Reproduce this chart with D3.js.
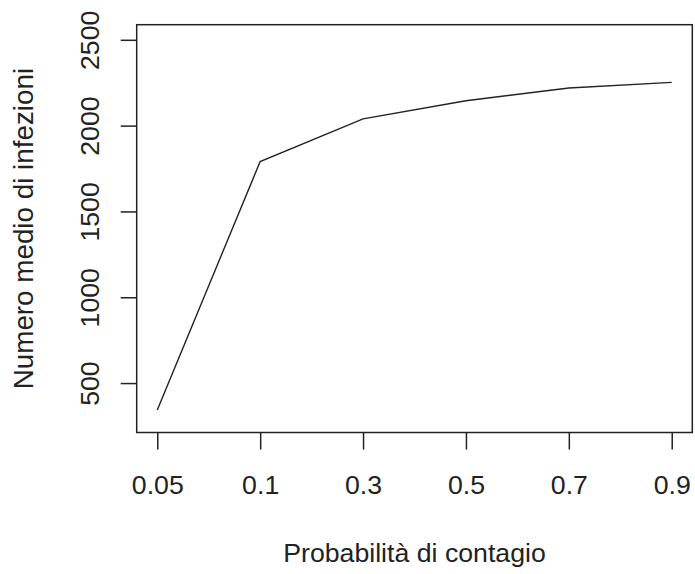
<!DOCTYPE html>
<html>
<head>
<meta charset="utf-8">
<script src="https://cdn.jsdelivr.net/npm/d3@7"></script>
<style>
  html, body { margin: 0; padding: 0; background: #fff; }
  svg { display: block; font-family: "Liberation Sans", Arial, Helvetica, sans-serif; }
</style>
</head>
<body>
<svg id="chart" width="695" height="574"></svg>
<script>
// Contagion probability levels (treated as ordered categories)
const probabilities = ["0.05", "0.1", "0.3", "0.5", "0.7", "0.9"];
// Mean number of infections for each probability
const meanInfections = [343, 1791, 2039, 2145, 2219, 2252];
// Y-axis ticks
const yTicks = [500, 1000, 1500, 2000, 2500];

const box = { left: 136.7, right: 692.3, top: 24.7, bottom: 432.5 };
const tickFont = 26.7;
const labFont = 27.8;

const svg = d3.select("#chart");

// Index scale 1..6 with a 4% pad on either side, like base graphics
const x = d3.scaleLinear().domain([0.8, 6.2]).range([box.left, box.right]);
const y = d3.scaleLinear().domain([212, 2588]).range([box.bottom, box.top]);

// Plot frame
svg.append("rect")
  .attr("x", box.left).attr("y", box.top)
  .attr("width", box.right - box.left).attr("height", box.bottom - box.top)
  .attr("fill", "none").attr("stroke", "#222").attr("stroke-width", 1.5);

// X axis
const xAxis = d3.axisBottom(x)
  .tickValues(d3.range(1, probabilities.length + 1))
  .tickFormat(i => probabilities[i - 1])
  .tickSize(17).tickPadding(24);
const gx = svg.append("g").attr("transform", `translate(0,${box.bottom})`).call(xAxis);
gx.select(".domain").remove();
gx.selectAll(".tick line").attr("stroke", "#222").attr("stroke-width", 1.5);
gx.selectAll(".tick text").attr("font-size", tickFont).attr("fill", "#222")
  .attr("font-family", "Liberation Sans, Arial, sans-serif")
  .attr("dy", null).attr("y", 61.5);

// Y axis (labels rotated parallel to the axis)
const yAxis = d3.axisLeft(y).tickValues(yTicks).tickSize(16).tickFormat(d3.format("d"));
const gy = svg.append("g").attr("transform", `translate(${box.left},0)`).call(yAxis);
gy.select(".domain").remove();
gy.selectAll(".tick line").attr("stroke", "#222").attr("stroke-width", 1.5);
gy.selectAll(".tick text")
  .attr("font-size", tickFont).attr("fill", "#222")
  .attr("font-family", "Liberation Sans, Arial, sans-serif")
  .attr("x", null).attr("dy", null)
  .attr("text-anchor", "middle")
  .attr("transform", `translate(${99 - box.left},0) rotate(-90)`);

// Data line
const line = d3.line()
  .x((d, i) => x(i + 1))
  .y(d => y(d));
svg.append("path")
  .datum(meanInfections)
  .attr("d", line)
  .attr("fill", "none").attr("stroke", "#222").attr("stroke-width", 1.4);

// Axis titles
svg.append("text")
  .attr("x", (box.left + box.right) / 2).attr("y", 561.5)
  .attr("text-anchor", "middle").attr("font-size", tickFont).attr("fill", "#222")
  .text("Probabilità di contagio");

svg.append("text")
  .attr("transform", `translate(33.3,${(box.top + box.bottom) / 2}) rotate(-90)`)
  .attr("text-anchor", "middle").attr("font-size", labFont).attr("fill", "#222")
  .text("Numero medio di infezioni");
</script>
</body>
</html>
